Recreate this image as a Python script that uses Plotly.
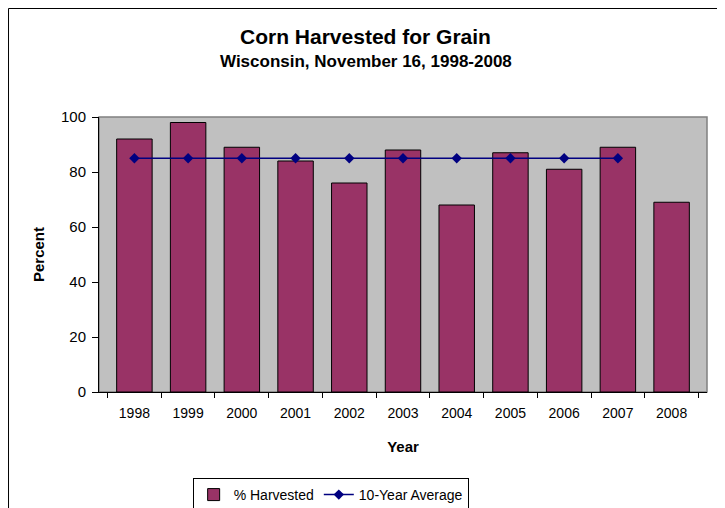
import plotly.graph_objects as go

years = ["1998", "1999", "2000", "2001", "2002", "2003", "2004", "2005", "2006", "2007", "2008"]
harvested = [92, 98, 89, 84, 76, 88, 68, 87, 81, 89, 69]
ten_year_avg = [85, 85, 85, 85, 85, 85, 85, 85, 85, 85, None]
y_ticks = [0, 20, 40, 60, 80, 100]

FONT = "Liberation Sans, Arial, sans-serif"

fig = go.Figure()
fig.add_trace(go.Bar(
    x=years, y=harvested, name="% Harvested",
    marker=dict(color="#993366", line=dict(color="black", width=1)),
))
fig.add_trace(go.Scatter(
    x=years, y=ten_year_avg, name="10-Year Average", mode="lines+markers",
    line=dict(color="#000080", width=1.5),
    marker=dict(symbol="diamond", size=8, color="#000080"),
))

fig.update_layout(
    width=725, height=508,
    margin=dict(l=91, r=26, t=109, b=124, autoexpand=False),
    paper_bgcolor="white", plot_bgcolor="#C0C0C0",
    font=dict(family=FONT, size=13, color="black"),
    bargap=0.34,
    showlegend=True,
    legend=dict(
        orientation="h", x=0.381, xanchor="center", y=-0.3127, yanchor="top",
        bordercolor="black", borderwidth=1, bgcolor="white",
        font=dict(size=14), itemwidth=30, tracegroupgap=0,
    ),
    annotations=[
        dict(text="<b>Corn Harvested for Grain</b>", xref="paper", yref="paper",
             x=0.4375, y=1.291, xanchor="center", yanchor="middle", showarrow=False,
             font=dict(size=21)),
        dict(text="<b>Wisconsin, November 16, 1998-2008</b>", xref="paper", yref="paper",
             x=0.439, y=1.2036, xanchor="center", yanchor="middle", showarrow=False,
             font=dict(size=17)),
    ],
    shapes=[
        dict(type="rect", xref="paper", yref="paper", x0=-0.1488, x1=1.0214, y0=-0.5, y1=1.3945,
             line=dict(color="black", width=1), fillcolor="rgba(0,0,0,0)", layer="below"),
        dict(type="rect", xref="paper", yref="paper", x0=0, x1=1, y0=0, y1=1,
             line=dict(color="#808080", width=1.5), fillcolor="rgba(0,0,0,0)", layer="below"),
    ],
)

fig.update_xaxes(
    type="category", showline=True, linecolor="black", linewidth=1,
    ticks="outside", tickson="boundaries", ticklen=5, tickcolor="black",
    showgrid=False, tickfont=dict(size=14), ticklabelstandoff=8,
    title=dict(text="<b>Year</b>", font=dict(size=15), standoff=21),
)
fig.update_yaxes(
    range=[0, 100], tickvals=y_ticks, showline=True, linecolor="black", linewidth=1,
    ticks="outside", ticklen=6, tickcolor="black", showgrid=False, zeroline=False,
    tickfont=dict(size=15), ticklabelstandoff=3,
    title=dict(text="<b>Percent</b>", font=dict(size=15), standoff=12),
)

fig.write_html("out.html")
